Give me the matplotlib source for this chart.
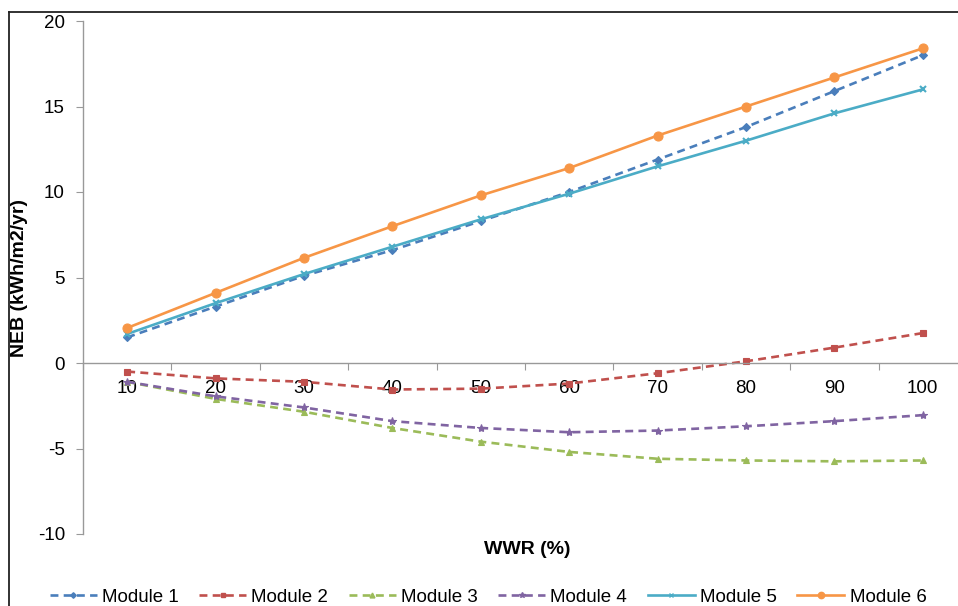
import matplotlib.pyplot as plt
from matplotlib.lines import Line2D

plt.rcParams['font.family'] = ['Liberation Sans', 'DejaVu Sans']

wwr = ['10', '20', '30', '40', '50', '60', '70', '80', '90', '100']
module1 = [1.5, 3.3, 5.1, 6.6, 8.3, 10.0, 11.9, 13.8, 15.9, 18.0]
module2 = [-0.5, -0.9, -1.1, -1.55, -1.5, -1.2, -0.6, 0.1, 0.9, 1.75]
module3 = [-1.1, -2.1, -2.85, -3.8, -4.6, -5.2, -5.6, -5.7, -5.75, -5.7]
module4 = [-1.1, -1.95, -2.6, -3.4, -3.8, -4.05, -3.95, -3.7, -3.4, -3.05]
module5 = [1.7, 3.5, 5.2, 6.8, 8.4, 9.9, 11.5, 13.0, 14.6, 16.0]
module6 = [2.05, 4.1, 6.15, 8.0, 9.8, 11.4, 13.3, 15.0, 16.7, 18.4]

series = [
    ('Module 1', module1, '#4A7EBB', 'D', '--', 4),
    ('Module 2', module2, '#C0504D', 's', '--', 5),
    ('Module 3', module3, '#9BBB59', '^', '--', 5),
    ('Module 4', module4, '#8064A2', '*', '--', 6),
    ('Module 5', module5, '#4BACC6', 'x', '-', 5),
    ('Module 6', module6, '#F79646', 'o', '-', 6.5),
]

fig = plt.figure(figsize=(9.58, 6.06), dpi=100)
ax = fig.add_axes([83 / 958, 72 / 606, 884 / 958, 513 / 606])

x = list(range(len(wwr)))
for name, vals, col, mk, ls, ms in series:
    ax.plot(x, vals, linestyle=ls, color=col, marker=mk, markersize=ms,
            markeredgewidth=1.5 if mk == 'x' else 0.8, linewidth=1.9,
            label=name, dashes=(3, 2) if ls == '--' else (None, None))

ax.set_xlim(-0.5, 9.5)
ax.set_ylim(-10, 20)
ax.set_yticks([-10, -5, 0, 5, 10, 15, 20])
ax.set_yticklabels(['-10', '-5', '0', '5', '10', '15', '20'])

# category axis crossing at y = 0, ticks between categories
ax.spines['bottom'].set_position(('data', 0))
ax.spines['top'].set_visible(False)
ax.spines['right'].set_visible(False)
for s in ('left', 'bottom'):
    ax.spines[s].set_color('#999999')
    ax.spines[s].set_linewidth(1.0)
ax.set_xticks([i + 0.5 for i in range(-1, 10)])
ax.set_xticklabels([])
ax.set_xticks(x, minor=True)
ax.set_xticklabels(wwr, minor=True, fontsize=13.5)
ax.tick_params(axis='x', which='major', direction='out', length=5, color='#999999')
ax.tick_params(axis='x', which='minor', length=0, pad=12)
ax.tick_params(axis='y', direction='out', length=5, color='#999999', labelsize=13.5, pad=8)

fig.text(20 / 958, 1 - 278 / 606, 'NEB (kWh/m2/yr)', rotation=90, fontsize=14,
         fontweight='bold', ha='center', va='center')
fig.text(527 / 958, 1 - 550 / 606, 'WWR (%)', fontsize=14, fontweight='bold',
         ha='center', va='center')

handles = [Line2D([0], [0], linestyle=ls, color=col, marker=mk, markersize=ms * 0.7,
                  linewidth=1.9, dashes=(3, 2) if ls == '--' else (None, None))
           for name, vals, col, mk, ls, ms in series]
fig.legend(handles, [s[0] for s in series], loc='center', ncol=6,
           bbox_to_anchor=(488 / 958, 1 - 597 / 606), frameon=False, fontsize=13.5,
           handlelength=2.5, handletextpad=0.28, columnspacing=1.1, borderpad=0)

# outer border (left and top edges visible)
fig.add_artist(Line2D([9 / 958, 9 / 958], [0, 1 - 12 / 606], color='#222222', linewidth=1.3))
fig.add_artist(Line2D([9 / 958, 1], [1 - 12 / 606, 1 - 12 / 606], color='#222222', linewidth=1.3))

fig.savefig('out.png', dpi=100)
